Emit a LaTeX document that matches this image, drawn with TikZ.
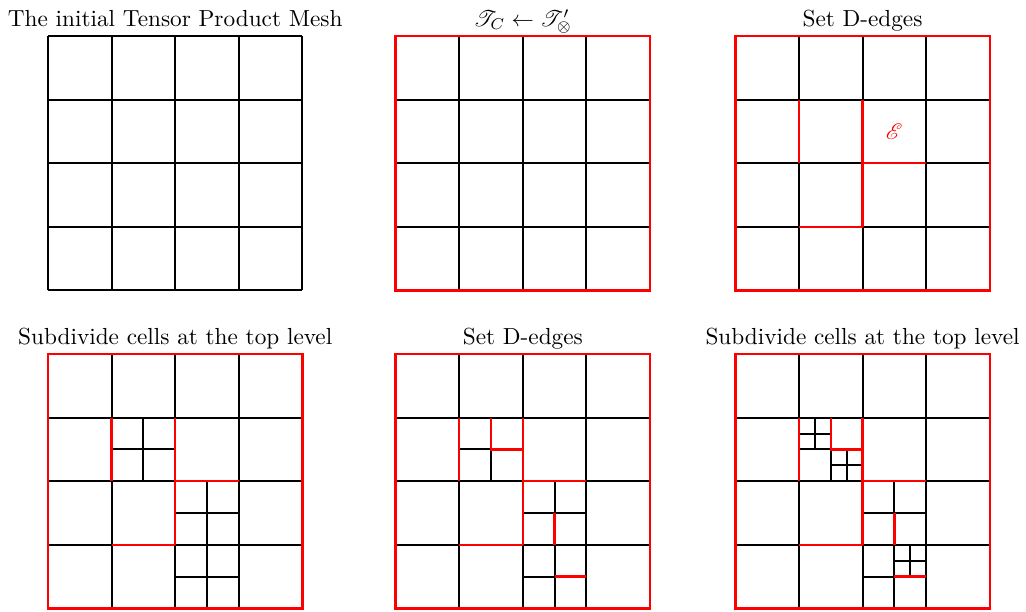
\documentclass[tikz,border=0pt]{standalone}
\usepackage{amsmath,amssymb,mathrsfs}
\usepackage{tikz}
\usetikzlibrary{positioning}
\definecolor{dred}{HTML}{FF0000}

\begin{document}
\begin{tikzpicture}[
    mesh/.style={black, line width=0.9pt},
    dedge/.style={dred, line width=1.1pt},
    title/.style={anchor=base, inner sep=0pt, font=\fontsize{10.4}{12}\selectfont}]
  \useasboundingbox (0,0) rectangle (16.13,-9.607);

  % Initial tensor product mesh
  \begin{scope}[shift={(0.755,-0.566)}, y=-1cm]
    \node[title] (t1) at (2,-0.15) {The initial Tensor Product Mesh};
    \draw[mesh] (0,0) grid (4,4);
  \end{scope}

  % T_C <- T'
  \begin{scope}[shift={(6.22,-0.566)}, y=-1cm]
    \node[title] (t2) at (2,-0.15) {$\mathscr{T}_C \leftarrow \mathscr{T}'_{\otimes}$};
    \draw[mesh] (0,0) grid (4,4);
    \draw[dedge] (0,0) rectangle (4,4);
  \end{scope}

  % Set D-edges
  \begin{scope}[shift={(11.56,-0.566)}, y=-1cm]
    \node[title] (t3) at (2,-0.15) {Set D-edges};
    \draw[mesh] (0,0) grid (4,4);
    \draw[dedge] (0,0) rectangle (4,4);
    \draw[dedge] (1,1) -- (1,2);
    \draw[dedge] (2,1) -- (2,3);
    \draw[dedge] (2,2) -- (3,2);
    \draw[dedge] (1,3) -- (2,3);
    \node[dred, inner sep=0pt] (e) at (2.5,1.5) {$\mathscr{E}$};
  \end{scope}

  % Subdivide cells at the top level
  \begin{scope}[shift={(0.755,-5.566)}, y=-1cm]
    \node[title] (t4) at (2,-0.15) {Subdivide cells at the top level};
    \draw[mesh] (0,0) grid (4,4);
    \draw[mesh] (1.5,1) -- (1.5,2);
    \draw[mesh] (1,1.5) -- (2,1.5);
    \draw[mesh] (2.5,2) -- (2.5,4);
    \draw[mesh] (2,2.5) -- (3,2.5);
    \draw[mesh] (2,3.5) -- (3,3.5);
    \draw[dedge] (0,0) rectangle (4,4);
    \draw[dedge] (1,1) -- (1,2);
    \draw[dedge] (2,1) -- (2,3);
    \draw[dedge] (2,2) -- (3,2);
    \draw[dedge] (1,3) -- (2,3);
  \end{scope}

  % Set D-edges
  \begin{scope}[shift={(6.22,-5.566)}, y=-1cm]
    \node[title] (t5) at (2,-0.15) {Set D-edges};
    \draw[mesh] (0,0) grid (4,4);
    \draw[mesh] (1.5,1.5) -- (1.5,2);
    \draw[mesh] (1,1.5) -- (1.5,1.5);
    \draw[mesh] (2.5,2) -- (2.5,2.5);
    \draw[mesh] (2.5,3) -- (2.5,4);
    \draw[mesh] (2,2.5) -- (3,2.5);
    \draw[mesh] (2,3.5) -- (2.5,3.5);
    \draw[dedge] (0,0) rectangle (4,4);
    \draw[dedge] (1,1) -- (1,2);
    \draw[dedge] (2,1) -- (2,3);
    \draw[dedge] (2,2) -- (3,2);
    \draw[dedge] (1,3) -- (2,3);
    \draw[dedge] (1.5,1) -- (1.5,1.5) -- (2,1.5);
    \draw[dedge] (2.5,2.5) -- (2.5,3);
    \draw[dedge] (2.5,3.5) -- (3,3.5);
  \end{scope}

  % Subdivide cells at the top level
  \begin{scope}[shift={(11.56,-5.566)}, y=-1cm]
    \node[title] (t6) at (2,-0.15) {Subdivide cells at the top level};
    \draw[mesh] (0,0) grid (4,4);
    \draw[mesh] (1.5,1.5) -- (1.5,2);
    \draw[mesh] (1,1.5) -- (1.5,1.5);
    \draw[mesh] (2.5,2) -- (2.5,2.5);
    \draw[mesh] (2.5,3) -- (2.5,4);
    \draw[mesh] (2,2.5) -- (3,2.5);
    \draw[mesh] (2,3.5) -- (2.5,3.5);
    \draw[mesh] (1.25,1) -- (1.25,1.5);
    \draw[mesh] (1,1.25) -- (1.5,1.25);
    \draw[mesh] (1.75,1.5) -- (1.75,2);
    \draw[mesh] (1.5,1.75) -- (2,1.75);
    \draw[mesh] (2.75,3) -- (2.75,3.5);
    \draw[mesh] (2.5,3.25) -- (3,3.25);
    \draw[dedge] (0,0) rectangle (4,4);
    \draw[dedge] (1,1) -- (1,2);
    \draw[dedge] (2,1) -- (2,3);
    \draw[dedge] (2,2) -- (3,2);
    \draw[dedge] (1,3) -- (2,3);
    \draw[dedge] (1.5,1) -- (1.5,1.5) -- (2,1.5);
    \draw[dedge] (2.5,2.5) -- (2.5,3);
    \draw[dedge] (2.5,3.5) -- (3,3.5);
  \end{scope}
\end{tikzpicture}
\end{document}
